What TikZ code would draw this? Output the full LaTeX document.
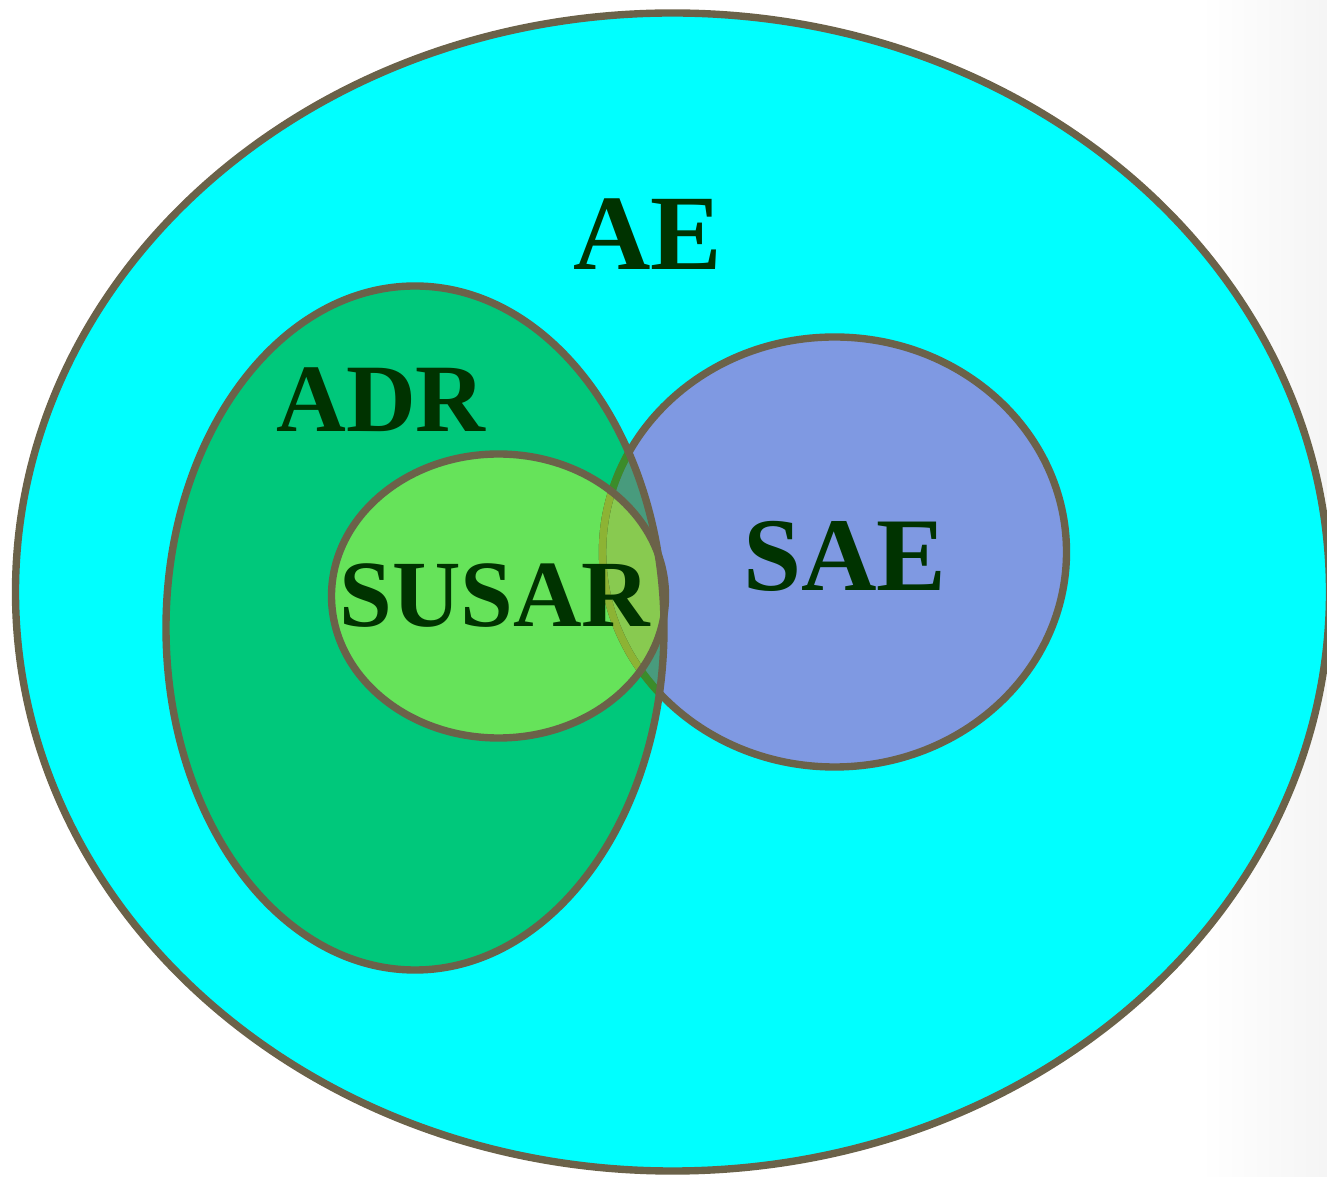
\documentclass[tikz,border=0pt]{standalone}
\usepackage{fontspec}
\setmainfont{Liberation Serif}
\definecolor{aefill}{HTML}{00FFFF}
\definecolor{adrfill}{HTML}{00C87B}
\definecolor{saefill}{HTML}{7F99E2}
\definecolor{susarfill}{HTML}{66E35A}
\definecolor{lensfill}{HTML}{489B7D}
\definecolor{susarsae}{HTML}{88CA50}
\definecolor{rim}{HTML}{6B6249}
\definecolor{rimgreen}{HTML}{3B8C2A}
\definecolor{rimolive}{HTML}{8DB334}
\definecolor{labelgreen}{HTML}{003300}
\tikzset{
  setrim/.style={draw=rim, line width=4.2pt},
  setlabel/.style={anchor=base, inner sep=0pt, text=labelgreen,
    font=\bfseries\fontsize{#1}{#1}\selectfont},
}
\begin{document}
\begin{tikzpicture}[x=0.02cm, y=0.02cm]
\useasboundingbox (0,0) rectangle (1327,1176);
\clip (0,0) rectangle (1327,1176);
% page background with a faint shadow towards the right edge
\fill[white] (0,0) rectangle (1327,1176);
\shade[left color=white, right color=black!4] (1200,0) rectangle (1327,1176);

% set centres
\coordinate (ae) at (672.5,584);
\coordinate (adr) at (415,548);
\coordinate (sae) at (834.5,624);
\coordinate (susar) at (498.5,580);

% fills
\fill[aefill] (ae) ellipse [x radius=657, y radius=579];
\fill[adrfill] (adr) ellipse [x radius=249, y radius=342];
\fill[saefill] (sae) ellipse [x radius=232, y radius=215];
\begin{scope}
  \clip (adr) ellipse [x radius=249, y radius=342];
  \fill[lensfill] (sae) ellipse [x radius=232, y radius=215];
\end{scope}
\fill[susarfill] (susar) ellipse [x radius=167, y radius=142];
\begin{scope}
  \clip (susar) ellipse [x radius=167, y radius=142];
  \fill[susarsae] (sae) ellipse [x radius=232, y radius=215];
\end{scope}

% outlines
\draw[setrim] (ae) ellipse [x radius=657, y radius=579];
\draw[setrim] (sae) ellipse [x radius=232, y radius=215];
\begin{scope}
  \clip (adr) ellipse [x radius=249, y radius=342];
  \draw[setrim, draw=rimgreen] (sae) ellipse [x radius=232, y radius=215];
\end{scope}
\begin{scope}
  \clip (susar) ellipse [x radius=167, y radius=142];
  \draw[setrim, draw=rimolive] (sae) ellipse [x radius=232, y radius=215];
\end{scope}
\draw[setrim] (adr) ellipse [x radius=249, y radius=342];
\draw[setrim] (susar) ellipse [x radius=167, y radius=142];

% labels
\node[setlabel=61] (aelabel) at (648,906) {AE};
\node[setlabel=55] (adrlabel) at (381,744) {ADR};
\node[setlabel=54] (susarlabel) at (495,549) {SUSAR};
\node[setlabel=59.5] (saelabel) at (845,585) {SAE};
\end{tikzpicture}
\end{document}
